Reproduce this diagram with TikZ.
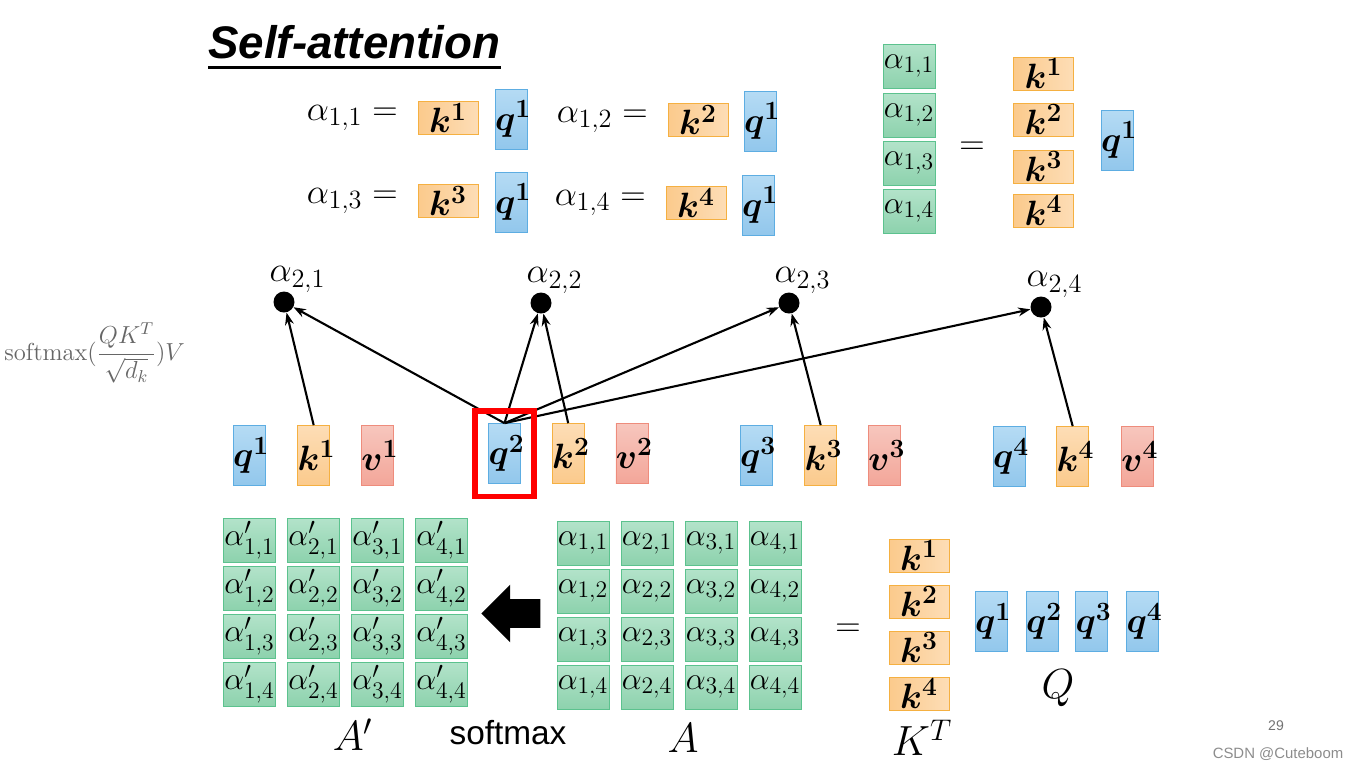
\RequirePackage{fix-cm}
\documentclass[tikz,border=0pt]{standalone}
\usepackage{amsmath}
\usepackage{fontspec}
\setsansfont{Liberation Sans}
\usepackage{tikz}
\usetikzlibrary{positioning, arrows.meta, shapes.arrows}

\DeclareMathSizes{18}{18}{13.5}{10}
\DeclareMathSizes{20}{20}{15}{11}
\DeclareMathSizes{24}{24}{17}{12}

\definecolor{qtop}{HTML}{B5DBF4}
\definecolor{qbot}{HTML}{92C7EC}
\definecolor{qline}{HTML}{5DADE2}
\definecolor{ktop}{HTML}{FDDDB6}
\definecolor{kbot}{HTML}{FBCA8C}
\definecolor{kline}{HTML}{F5B041}
\definecolor{vtop}{HTML}{F7C6BD}
\definecolor{vbot}{HTML}{F3A699}
\definecolor{vline}{HTML}{EE8C7C}
\definecolor{atop}{HTML}{B3E3CA}
\definecolor{abot}{HTML}{8DD2AD}
\definecolor{aline}{HTML}{5CC28E}

\begin{document}
\begin{tikzpicture}[
    x=0.02cm, y=-0.02cm,
    qbox/.style={rectangle, draw=qline, top color=qtop, bottom color=qbot, text width=0.64cm, align=center, minimum height=1.2cm, inner sep=0, font=\fontsize{20}{24}\selectfont},
    kbox/.style={qbox, draw=kline, top color=ktop, bottom color=kbot},
    vbox/.style={qbox, draw=vline, top color=vtop, bottom color=vbot},
    kwide/.style={rectangle, draw=kline, left color=kbot, right color=ktop, minimum width=1.2cm, minimum height=0.66cm, inner sep=0, font=\fontsize{20}{24}\selectfont},
    abox/.style={rectangle, draw=aline, top color=atop, bottom color=abot, text width=1.04cm, align=center, minimum height=0.88cm, inner sep=0, font=\fontsize{18}{22}\selectfont},
    eq/.style={inner sep=1pt, font=\fontsize{20}{24}\selectfont},
    big/.style={inner sep=1pt, font=\fontsize{24}{28}\selectfont},
    dot/.style={circle, fill=black, inner sep=0, minimum size=0.42cm},
    link/.style={-{Stealth[length=7pt, width=5pt]}, line width=1.2pt},
    selbox/.style={rectangle, draw=red, line width=3.4pt, minimum width=1.18cm, minimum height=1.72cm, inner sep=0},
    bigarrow/.style={single arrow, shape border rotate=180, fill=black, inner xsep=0, inner ysep=0.28cm, minimum height=1.18cm, single arrow head extend=0.29cm}
]
\useasboundingbox (0,0) rectangle (1349,769);

% title
\node[font=\sffamily\bfseries\itshape\fontsize{26}{30}\selectfont, anchor=base west, inner sep=0] (title) at (208,58) {Self-attention};
\draw[line width=1.7pt] ([yshift=-5pt]title.south west) -- ([yshift=-5pt]title.south east);

% alpha_{1,i} = k^i q^1
\node[kwide] (e1k) at (448,118) {$\boldsymbol{k^1}$};
\node[qbox] (e1q) at (511,119) {$\boldsymbol{q^1}$};
\node[eq, left=0.36cm of e1k] (e1l) {$\alpha_{1,1} =$};
\node[kwide] (e2k) at (698,120) {$\boldsymbol{k^2}$};
\node[qbox] (e2q) at (760,121) {$\boldsymbol{q^1}$};
\node[eq, left=0.36cm of e2k] (e2l) {$\alpha_{1,2} =$};
\node[kwide] (e3k) at (448,201) {$\boldsymbol{k^3}$};
\node[qbox] (e3q) at (511,202) {$\boldsymbol{q^1}$};
\node[eq, left=0.36cm of e3k] (e3l) {$\alpha_{1,3} =$};
\node[kwide] (e4k) at (696,203) {$\boldsymbol{k^4}$};
\node[qbox] (e4q) at (758,205) {$\boldsymbol{q^1}$};
\node[eq, left=0.36cm of e4k] (e4l) {$\alpha_{1,4} =$};

% column form
\foreach \i/\y in {1/66, 2/115, 3/163, 4/211}
    \node[abox] (c\i) at (909,\y) {$\alpha_{1,\i}$};
\foreach \i/\y in {1/73.5, 2/119.5, 3/166.5, 4/210.5}
    \node[kwide] (ck\i) at (1043.5,\y) {$\boldsymbol{k^\i}$};
\node[eq] (ceq) at (972,148) {$=$};
\node[qbox] (cq) at (1117,140) {$\boldsymbol{q^1}$};

% softmax formula
\node[anchor=west, inner sep=0, text=black!60, font=\fontsize{14}{17}\selectfont] (attn) at (4,353) {$\displaystyle\mathrm{softmax}(\frac{QK^T}{\sqrt{d_k}})V$};

% q k v
\node[qbox] (q1) at (249,455.5) {$\boldsymbol{q^1}$};
\node[kbox, right=0.64cm of q1] (k1) {$\boldsymbol{k^1}$};
\node[vbox, right=0.62cm of k1] (v1) {$\boldsymbol{v^1}$};
\node[qbox] (q2) at (504.5,453.5) {$\boldsymbol{q^2}$};
\node[kbox, right=0.62cm of q2] (k2) {$\boldsymbol{k^2}$};
\node[vbox, right=0.62cm of k2] (v2) {$\boldsymbol{v^2}$};
\node[qbox] (q3) at (756,455.5) {$\boldsymbol{q^3}$};
\node[kbox, right=0.64cm of q3] (k3) {$\boldsymbol{k^3}$};
\node[vbox, right=0.62cm of k3] (v3) {$\boldsymbol{v^3}$};
\node[qbox] (q4) at (1009,456.5) {$\boldsymbol{q^4}$};
\node[kbox, right=0.62cm of q4] (k4) {$\boldsymbol{k^4}$};
\node[vbox, right=0.64cm of k4] (v4) {$\boldsymbol{v^4}$};

% attention scores
\node[dot] (a21) at (284,302) {};
\node[dot] (a22) at (541,303) {};
\node[dot] (a23) at (789,303) {};
\node[dot] (a24) at (1041,307) {};
\foreach \j in {1,...,4}
    \node[eq, anchor=south west] (l2\j) at ([xshift=-5pt,yshift=0pt]a2\j.north west) {$\alpha_{2,\j}$};

\draw[link] (k1.north) -- (a21);
\draw[link] (q2.north) -- (a21);
\draw[link] (q2.north) -- (a22);
\draw[link] (k2.north) -- (a22);
\draw[link] (q2.north) -- (a23);
\draw[link] (q2.north) -- (a24);
\draw[link] (k3.north) -- (a23);
\draw[link] (k4.north) -- (a24);

\node[selbox] (sel) at (q2) {};

% matrices
\foreach \c in {1,...,4}
    \foreach \r in {1,...,4} {
        \node[abox] (ap\c\r) at ({249.5+64*(\c-1)},{540+48*(\r-1)}) {$\alpha'_{\c,\r}$};
        \node[abox] (a\c\r) at ({583+64*(\c-1)},{543+48*(\r-1)}) {$\alpha_{\c,\r}$};
    }
\node[bigarrow] (smx) at (518,613.5) {};
\node[font=\sffamily\fontsize{19}{22}\selectfont, inner sep=0] (smxl) at (508,733) {softmax};
\node[big] (lap) at (353,735) {$A'$};
\node[big] (la) at (683,738) {$A$};
\node[eq] (meq) at (848,630) {$=$};

\foreach \i/\y in {1/555.5, 2/601.5, 3/647.5, 4/693.5}
    \node[kwide] (kt\i) at (919,\y) {$\boldsymbol{k^\i}$};
\node[big] (lkt) at (922,738) {$K^T$};
\foreach \i/\x in {1/991, 2/1042, 3/1091.5, 4/1142.5}
    \node[qbox] (qq\i) at (\x,621.5) {$\boldsymbol{q^\i}$};
\node[big] (lq) at (1058,688) {$Q$};

% page number and credit
\node[font=\sffamily\fontsize{8}{10}\selectfont, text=black!55] (pg) at (1276,726) {29};
\node[font=\sffamily\fontsize{8.5}{10}\selectfont, text=black!45] (csdn) at (1278,754) {CSDN @Cuteboom};
\end{tikzpicture}
\end{document}
